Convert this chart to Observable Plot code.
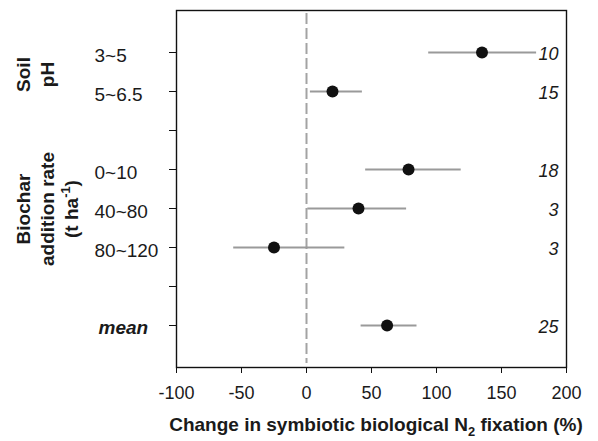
<!DOCTYPE html>
<html><head><meta charset="utf-8">
<script src="https://cdn.jsdelivr.net/npm/d3@7"></script>
<script src="https://cdn.jsdelivr.net/npm/@observablehq/plot@0.6"></script>
<style>
body{margin:0;background:#fff;}
svg{font-family:"Liberation Sans",Arial,Helvetica,sans-serif;}
</style>
</head><body><div id="chart"></div>
<script>
// Rows of the forest plot (gap rows are blank spacer rows)
const rows = ["3~5","5~6.5","gap1","0~10","40~80","80~120","gap2","mean"];
const categories = ["3~5","5~6.5","0~10","40~80","80~120","mean"];
const effect = [135, 20, 78.5, 40, -25, 62];
const ciLow  = [94, 3, 45.5, 1, -56, 42];
const ciHigh = [177, 43, 119, 77, 29.5, 85];
const nStudies = [10, 15, 18, 3, 3, 25];
const xTicks = [-100, -50, 0, 50, 100, 150, 200];
const groupLines = [["Soil","pH"], ["Biochar","addition rate","(t ha^{-1})"]];
const groupMembers = [["3~5","5~6.5"], ["0~10","40~80","80~120"]];
const xTitle = "Change in symbiotic biological N_{2} fixation (%)";

const data = categories.map((c, i) => ({cat: c, eff: effect[i], lo: ciLow[i], hi: ciHigh[i], n: nStudies[i]}));
const plainCats = categories.filter(c => c !== "mean");

const plot = Plot.plot({
  width: 598,
  height: 441,
  marginLeft: 176,
  marginRight: 32,
  marginTop: 10,
  marginBottom: 74,
  style: {fontFamily: "Liberation Sans, Arial, sans-serif", fontSize: "18px", color: "#1a1a1a", background: "white"},
  x: {domain: [-100, 200], label: null},
  y: {type: "point", domain: rows, padding: 1, label: null},
  marks: [
    Plot.ruleX([0], {stroke: "#a3a3a3", strokeWidth: 2, strokeDasharray: "11,4", insetTop: 3, insetBottom: 4}),
    Plot.ruleY(data, {y: "cat", x1: "lo", x2: "hi", stroke: "#9a9a9a", strokeWidth: 2}),
    Plot.dot(data, {x: "eff", y: "cat", r: 6, fill: "#111", stroke: "none"}),
    Plot.text(data, {y: "cat", text: d => String(d.n), frameAnchor: "right", dx: -8, dy: 2, textAnchor: "end", fontStyle: "italic", fontSize: 18}),
    Plot.text(plainCats, {y: d => d, text: d => d, frameAnchor: "left", dx: -82, dy: 3, textAnchor: "start", fontSize: 19}),
    Plot.text(["mean"], {y: d => d, text: d => d, frameAnchor: "left", dx: -78, dy: 2, textAnchor: "start", fontSize: 19, fontWeight: "bold", fontStyle: "italic"}),
    Plot.axisY({tickSize: 7, tickFormat: () => "", stroke: "#111", label: null}),
    Plot.axisX({ticks: xTicks, tickSize: 6, tickPadding: 13, tickFormat: d => String(d), label: null, fontSize: 18, stroke: "#111"}),
    Plot.frame({stroke: "#111", strokeWidth: 1.4})
  ]
});
document.getElementById("chart").appendChild(plot);

// Rich text helper: supports ^{sup} and _{sub}
function richText(sel, str, size) {
  const parts = str.split(/(\^\{[^}]*\}|_\{[^}]*\})/).filter(s => s.length);
  let shift = 0;
  parts.forEach(p => {
    let t, target = 0, fs = size;
    if (p.startsWith("^{")) { t = p.slice(2, -1); target = -0.42 * size; fs = size * 0.68; }
    else if (p.startsWith("_{")) { t = p.slice(2, -1); target = 0.28 * size; fs = size * 0.68; }
    else { t = p; }
    sel.append("tspan").attr("dy", target - shift).attr("font-size", fs).text(t);
    shift = target;
  });
}

const svg = d3.select(plot);
const ys = plot.scale("y");
// Group labels (rotated)
groupLines.forEach((lines, gi) => {
  const yc = d3.mean(groupMembers[gi], c => ys.apply(c)) + (gi === 0 ? 3 : 1);
  lines.forEach((ln, li) => {
    const t = svg.append("text")
      .attr("transform", `translate(${30 + 24 * li},${yc}) rotate(-90)`)
      .attr("text-anchor", "middle")
      .attr("font-weight", "bold")
      .attr("font-size", 19)
      .attr("fill", "#1a1a1a");
    richText(t, ln, 19);
  });
});
// X axis title
const xs = plot.scale("x");
const tt = svg.append("text")
  .attr("x", (xs.range[0] + xs.range[1]) / 2 + 5)
  .attr("y", 431)
  .attr("text-anchor", "middle")
  .attr("font-weight", "bold")
  .attr("font-size", 19)
  .attr("fill", "#1a1a1a");
richText(tt, xTitle, 19);
</script>
</body></html>
